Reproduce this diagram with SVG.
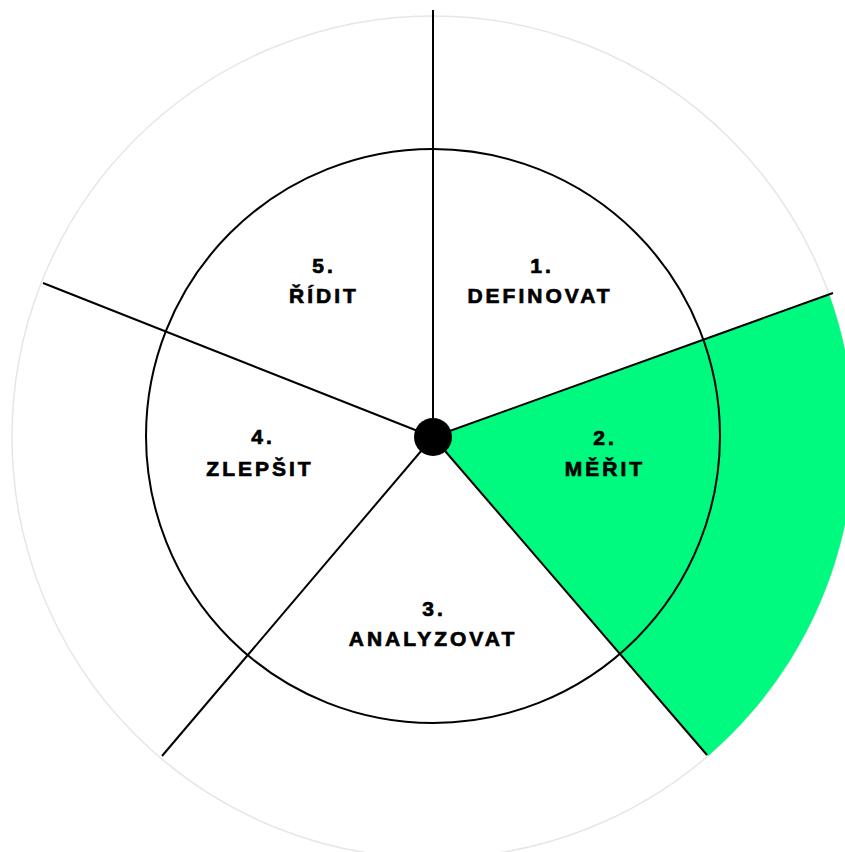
<svg xmlns="http://www.w3.org/2000/svg" width="845" height="852" viewBox="0 0 845 852">
<style>
.lbl{font-family:"Liberation Sans",Arial,sans-serif;font-weight:bold;font-size:21px;letter-spacing:3px;text-anchor:middle;fill:#000;stroke:#000;stroke-width:0.7}
.spoke{stroke:#000;stroke-width:2;fill:none}
</style>
<rect width="845" height="852" fill="#fff"/>
<g id="outer"><circle cx="433" cy="437" r="421" fill="none" stroke="#e6e6e6" stroke-width="1.5"/></g>
<g id="sector-2"><path d="M433,437 L829,294 A421,421 0 0 1 708,756 Z" fill="#00FA80"/></g>
<g id="inner"><circle cx="433" cy="436" r="287" fill="none" stroke="#000" stroke-width="2"/></g>
<g id="connectors">
<line class="spoke" x1="433" y1="437" x2="433" y2="10"/>
<line class="spoke" x1="433" y1="437" x2="833" y2="293"/>
<line class="spoke" x1="433" y1="437" x2="707" y2="755"/>
<line class="spoke" x1="433" y1="437" x2="162" y2="756"/>
<line class="spoke" x1="433" y1="437" x2="43" y2="283"/>
</g>
<g id="hub"><circle cx="433" cy="437" r="19" fill="#000"/></g>
<g id="node-1"><text class="lbl" x="542" y="273">1.</text><text class="lbl" x="540" y="303">DEFINOVAT</text></g>
<g id="node-2"><text class="lbl" x="605" y="445">2.</text><text class="lbl" x="605" y="476">MĚŘIT</text></g>
<g id="node-3"><text class="lbl" x="434" y="616">3.</text><text class="lbl" x="433" y="646">ANALYZOVAT</text></g>
<g id="node-4"><text class="lbl" x="263" y="444">4.</text><text class="lbl" x="260" y="476">ZLEPŠIT</text></g>
<g id="node-5"><text class="lbl" x="324" y="273">5.</text><text class="lbl" x="324" y="303">ŘÍDIT</text></g>
</svg>
